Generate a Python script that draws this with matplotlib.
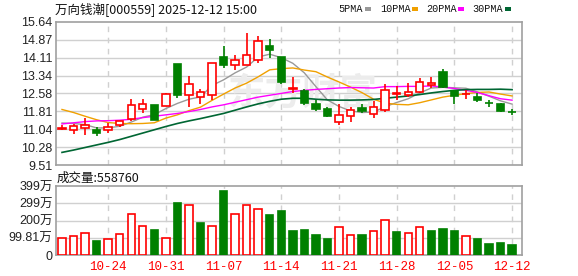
import matplotlib
matplotlib.use('Agg')
import matplotlib.pyplot as plt
import numpy as np

plt.rcParams['font.family'] = ['Noto Sans CJK SC', 'DejaVu Sans']

# daily data, 2025-10-20 .. 2025-12-12
opens = [11.07, 11.03, 11.10, 11.03, 10.99, 11.21, 11.47, 11.92, 12.07, 12.05,
         13.85, 12.52, 12.43, 12.52, 14.14, 13.80, 13.80, 14.02, 14.62, 14.14,
         12.78, 12.69, 12.11, 11.90, 11.37, 11.63, 11.94, 11.71, 11.88, 12.57,
         12.49, 12.65, 12.92, 13.50, 12.69, 12.54, 12.43, 12.16, 12.14, 11.79]
highs = [11.22, 11.27, 11.51, 11.13, 11.30, 11.41, 12.32, 12.32, 12.09, 12.58,
         13.86, 13.34, 12.77, 13.90, 14.60, 14.24, 15.16, 15.04, 14.92, 14.14,
         13.29, 12.75, 12.29, 12.01, 12.12, 12.01, 12.14, 12.25, 13.00, 12.90,
         13.03, 13.24, 13.29, 13.63, 12.70, 12.72, 12.58, 12.29, 12.18, 11.90]
lows = [11.00, 10.83, 10.80, 10.76, 10.87, 11.16, 11.38, 11.73, 11.44, 12.03,
        12.38, 12.01, 12.11, 12.28, 13.65, 13.57, 13.78, 13.88, 14.08, 13.00,
        12.58, 12.09, 11.81, 11.55, 11.24, 11.36, 11.75, 11.53, 11.78, 12.30,
        12.43, 12.58, 12.79, 12.82, 12.12, 12.35, 12.21, 12.01, 11.77, 11.67]
closes = [11.08, 11.17, 11.21, 10.90, 11.16, 11.41, 12.09, 12.14, 11.46, 12.56,
          12.49, 12.99, 12.66, 13.88, 13.78, 14.01, 14.22, 14.82, 14.46, 13.06,
          12.79, 12.16, 11.90, 11.61, 11.65, 11.85, 11.81, 11.99, 12.73, 12.58,
          12.65, 13.07, 13.03, 12.85, 12.48, 12.55, 12.29, 12.15, 11.82, 11.78]

ma5 = [11.31, 11.29, 11.24, 11.10, 11.10, 11.17, 11.35, 11.56, 11.67, 11.93,
       12.15, 12.33, 12.43, 12.92, 13.16, 13.46, 13.71, 14.14, 14.26, 14.11,
       13.87, 13.46, 12.87, 12.30, 12.02, 11.83, 11.76, 11.78, 12.01, 12.19,
       12.35, 12.60, 12.81, 12.84, 12.82, 12.80, 12.64, 12.46, 12.26, 12.12]
ma10 = [11.89, 11.76, 11.60, 11.45, 11.33, 11.29, 11.28, 11.29, 11.32, 11.52,
        11.66, 11.84, 11.99, 12.28, 12.55, 12.81, 13.02, 13.29, 13.59, 13.64,
        13.67, 13.58, 13.51, 13.28, 13.07, 12.85, 12.61, 12.33, 12.16, 12.11,
        12.09, 12.18, 12.30, 12.42, 12.50, 12.57, 12.62, 12.64, 12.55, 12.47]
ma20 = [11.27, 11.32, 11.37, 11.40, 11.41, 11.43, 11.47, 11.54, 11.60, 11.66,
        11.72, 11.80, 11.89, 12.00, 12.09, 12.20, 12.31, 12.42, 12.50, 12.58,
        12.66, 12.71, 12.75, 12.78, 12.81, 12.83, 12.82, 12.81, 12.87, 12.87,
        12.88, 12.88, 12.90, 12.85, 12.79, 12.71, 12.62, 12.48, 12.35, 12.29]
ma30 = [10.05, 10.15, 10.26, 10.37, 10.48, 10.60, 10.74, 10.88, 11.02, 11.16,
        11.29, 11.40, 11.50, 11.61, 11.72, 11.86, 12.00, 12.13, 12.24, 12.33,
        12.37, 12.37, 12.33, 12.30, 12.29, 12.29, 12.30, 12.32, 12.37, 12.42,
        12.47, 12.53, 12.60, 12.66, 12.71, 12.74, 12.75, 12.75, 12.76, 12.74]

# volume in 万, colour flag (1 = up day)
volume = [99.8, 109.4, 126.7, 82.5, 94.0, 122.8, 236.1, 167.0, 145.9, 99.8,
          303.3, 287.9, 186.2, 167.0, 370.5, 238.0, 287.9, 264.9, 232.3, 257.2,
          140.1, 145.9, 117.1, 90.2, 161.2, 115.2, 117.1, 138.2, 203.5, 134.4,
          126.7, 161.2, 140.1, 151.6, 140.1, 109.4, 90.2, 65.3, 71.0, 55.9]
vol_up = [1, 1, 1, 0, 1, 1, 1, 1, 0, 1, 0, 1, 0, 1, 0, 1, 1, 1, 0, 0,
          0, 0, 0, 0, 1, 1, 0, 1, 1, 0, 1, 1, 0, 0, 0, 1, 0, 0, 0, 0]

date_ticks = [4, 9, 14, 19, 24, 29, 34, 39]
date_labels = ['10-24', '10-31', '11-07', '11-14', '11-21', '11-28', '12-05', '12-12']

price_ticks = [9.51, 10.28, 11.04, 11.81, 12.58, 13.34, 14.11, 14.87, 15.64]
vol_ticks = [0, 99.81, 199.62, 299.43, 399.24]
vol_labels = ['0', '99.81万', '200万', '299万', '399万']

RED = '#ff0000'
GREEN = '#008000'
FRAME = '#a0a0a0'
GRID = '#d0d0d0'
MA_COLORS = ['#999999', '#f0a000', '#ff00ff', '#006633']

fig = plt.figure(figsize=(5.78, 2.76), dpi=100)
ax = fig.add_axes([56 / 578, 1 - 165 / 276, 466 / 578, 143 / 276])
axv = fig.add_axes([56 / 578, 1 - 255 / 276, 466 / 578, 69 / 276])

x = np.arange(len(closes))
o = np.array(opens)
c = np.array(closes)
up = c >= o
bw = 0.64


def style_axes(a, ticks, labels, lo, hi):
    a.set_xlim(-0.52, 39.86)
    a.set_ylim(lo, hi)
    a.set_yticks(ticks)
    a.set_yticklabels(labels)
    for y in ticks[1:-1]:
        a.axhline(y, color=GRID, lw=1, zorder=0)
    for d in date_ticks:
        a.axvline(d, color=GRID, lw=1, ls=(0, (4, 4)), zorder=0)
    for s in a.spines.values():
        s.set_color(FRAME)
        s.set_linewidth(1.2)
    a.tick_params(axis='y', length=0, pad=2.5, labelsize=9, labelcolor='#222222')
    for t in a.get_yticklabels():
        t.set_fontfamily(['Liberation Sans', 'Noto Sans CJK SC'])


style_axes(ax, price_ticks, ['%.2f' % v for v in price_ticks], 9.51, 15.64)
ax.set_xticks([])

# watermark
ax.text(0.53, 0.5, '东方财富', transform=ax.transAxes, fontsize=27, color='#ececec',
        fontweight='bold', ha='center', va='center', zorder=0.5)

# moving averages
ax.plot(x, ma5, color=MA_COLORS[0], lw=1, zorder=4)
ax.plot(x, ma10, color=MA_COLORS[1], lw=1, zorder=4)
ax.plot(x, ma20, color=MA_COLORS[2], lw=1, zorder=4)
ax.plot(x, ma30, color=MA_COLORS[3], lw=1.2, zorder=4)

# candles
col = np.where(up, RED, GREEN)
ax.vlines(x, lows, highs, colors=col, lw=1.2, zorder=5)
body_lo = np.minimum(o, c)
body_h = np.maximum(np.abs(c - o), 0.005)
ax.bar(x[up], body_h[up], bw, bottom=body_lo[up], facecolor='white',
       edgecolor=RED, lw=1.2, zorder=6)
ax.bar(x[~up], body_h[~up], bw, bottom=body_lo[~up], facecolor=GREEN,
       edgecolor=GREEN, lw=1.2, zorder=6)

# volume
vu = np.array(vol_up) == 1
vol = np.array(volume)
style_axes(axv, vol_ticks, vol_labels, 0, 399.24)
axv.bar(x[vu], vol[vu], bw, facecolor='white', edgecolor=RED, lw=1.2, zorder=3)
axv.bar(x[~vu], vol[~vu], bw, facecolor=GREEN, edgecolor=GREEN, lw=1.2, zorder=3)
axv.set_xticks(date_ticks)
axv.set_xticklabels(date_labels)
axv.tick_params(axis='x', length=0, pad=4, labelsize=9, labelcolor=RED)
for t in axv.get_xticklabels():
    t.set_fontfamily('Liberation Mono')

# header texts
fig.text(55 / 578, 1 - 9 / 276, '万向钱潮[000559] 2025-12-12 15:00', fontsize=9,
         ha='left', va='center', color='#111111')
fig.text(57 / 578, 1 - 178 / 276, '成交量:558760', fontsize=9,
         ha='left', va='center', color='#111111')

legend_names = ['5PMA', '10PMA', '20PMA', '30PMA']
legend_text_x = [338, 380, 426, 472]
legend_mark_x = [365, 412, 458, 505]
for name, color, tx, mx in zip(legend_names, MA_COLORS, legend_text_x, legend_mark_x):
    fig.text(tx / 578, 1 - 9 / 276, name, fontsize=7.3, ha='left', va='center',
             family='Liberation Mono', color='#111111')
    fig.patches.append(plt.Rectangle((mx / 578, 1 - 10.5 / 276), 6 / 578, 3 / 276,
                                     transform=fig.transFigure, facecolor=color,
                                     edgecolor='none'))

fig.savefig('out.png', dpi=100)
